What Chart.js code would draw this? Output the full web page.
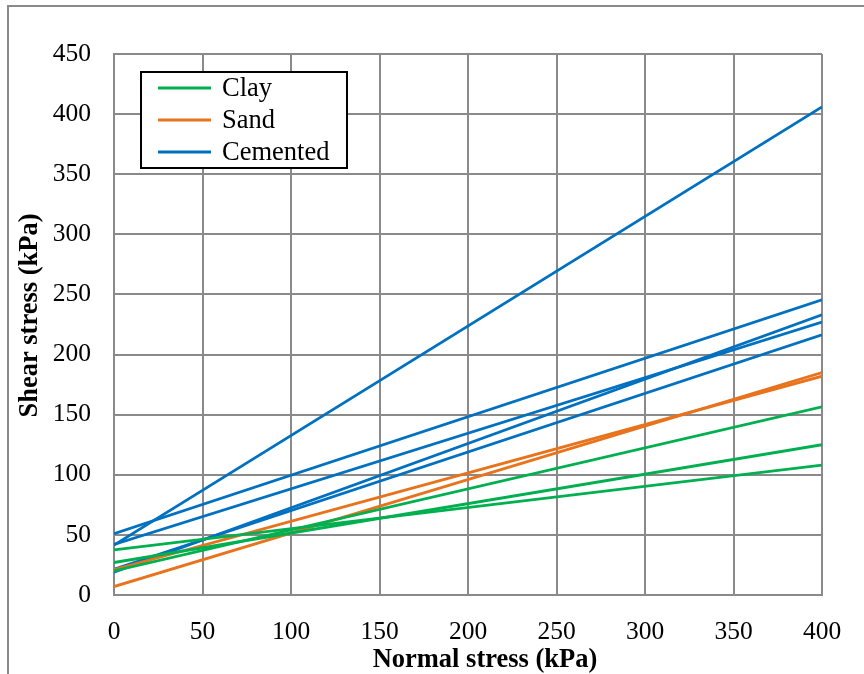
<!DOCTYPE html>
<html>
<head>
<meta charset="utf-8">
<script src="https://cdn.jsdelivr.net/npm/chart.js@4.4.0/dist/chart.umd.min.js"></script>
<style>
  html, body { margin: 0; padding: 0; background: #ffffff; }
  #wrap { position: relative; width: 864px; height: 674px; overflow: hidden; }
  #frame { position: absolute; left: 7px; top: 5px; width: 900px; height: 700px;
           border-left: 2px solid #8a8a8a; border-top: 2px solid #8a8a8a; box-sizing: border-box; }
  canvas { position: absolute; left: 0; top: 0; }
</style>
</head>
<body>
<div id="wrap">
  <div id="frame"></div>
  <canvas id="c" width="864" height="674"></canvas>
</div>
<script>
// Normal stress end points (kPa)
const normalStress = [0, 400];

// Shear stress at the two end points (kPa)
const clayA = [37.5, 108];
const clayB = [27, 125];
const clayC = [20, 156.5];

const sandA = [21, 182];
const sandB = [7, 185];

const cementedA = [41.5, 406];
const cementedB = [51, 245.5];
const cementedC = [42, 227];
const cementedD = [19, 233];
const cementedE = [21.5, 216.5];

const xTicks = [0, 50, 100, 150, 200, 250, 300, 350, 400];
const yTicks = [0, 50, 100, 150, 200, 250, 300, 350, 400, 450];

const groupNames = ['Clay', 'Sand', 'Cemented'];
const groupColors = ['#00B050', '#E8731C', '#0070C0'];
const xTitle = 'Normal stress (kPa)';
const yTitle = 'Shear stress (kPa)';
const groups = [
  [clayA, clayB, clayC],
  [sandA, sandB],
  [cementedA, cementedB, cementedC, cementedD, cementedE]
];

const datasets = [];
groups.forEach((g, gi) => {
  g.forEach((vals) => {
    datasets.push({
      label: groupNames[gi],
      data: normalStress.map((x, k) => ({ x: x, y: vals[k] })),
      borderColor: groupColors[gi],
      backgroundColor: groupColors[gi],
      borderWidth: 2.8,
      pointRadius: 0,
      fill: false,
      tension: 0
    });
  });
});

const FONT = "'Liberation Serif', 'Times New Roman', serif";

const boxLegend = {
  id: 'boxLegend',
  afterDraw(chart) {
    const ctx = chart.ctx;
    const a = chart.chartArea;
    const left = a.left + 27, top = a.top + 18, w = 206, h = 96;
    ctx.save();
    ctx.fillStyle = '#ffffff';
    ctx.fillRect(left, top, w, h);
    ctx.strokeStyle = '#000000';
    ctx.lineWidth = 2;
    ctx.strokeRect(left, top, w, h);
    ctx.font = '26.5px ' + FONT;
    ctx.textBaseline = 'middle';
    ctx.textAlign = 'left';
    groupNames.forEach((name, i) => {
      const y = top + 16 + i * 32;
      ctx.strokeStyle = groupColors[i];
      ctx.lineWidth = 2.8;
      ctx.beginPath();
      ctx.moveTo(left + 17, y);
      ctx.lineTo(left + 70, y);
      ctx.stroke();
      ctx.fillStyle = '#000000';
      ctx.fillText(name, left + 81, y + 1);
    });
    ctx.restore();
  }
};

const axisTitles = {
  id: 'axisTitles',
  afterDraw(chart) {
    const ctx = chart.ctx;
    const a = chart.chartArea;
    ctx.save();
    ctx.fillStyle = '#000';
    ctx.font = 'bold 26.5px ' + FONT;
    ctx.textAlign = 'center';
    ctx.textBaseline = 'middle';
    ctx.fillText(xTitle, (a.left + a.right) / 2 + 17, 660);
    ctx.translate(30, (a.top + a.bottom) / 2 - 9);
    ctx.rotate(-Math.PI / 2);
    ctx.fillText(yTitle, 0, 0);
    ctx.restore();
  }
};

new Chart(document.getElementById('c'), {
  type: 'line',
  data: { datasets: datasets },
  options: {
    responsive: false,
    animation: false,
    layout: { padding: { left: 0, right: 42, top: 54, bottom: 0 } },
    plugins: {
      legend: { display: false },
      tooltip: { enabled: false }
    },
    scales: {
      x: {
        type: 'linear',
        min: 0, max: 400,
        afterBuildTicks: (s) => { s.ticks = xTicks.map(v => ({ value: v })); },
        afterFit: (s) => { s.height = 79; },
        grid: { color: '#8a8a8a', lineWidth: 2, drawTicks: false },
        border: { color: '#8a8a8a', width: 2 },
        ticks: { color: '#000', font: { family: FONT, size: 25.5 }, padding: 22, maxRotation: 0 },
        title: { display: false }
      },
      y: {
        type: 'linear',
        min: 0, max: 450,
        afterBuildTicks: (s) => { s.ticks = yTicks.map(v => ({ value: v })); },
        afterFit: (s) => { s.width = 114; },
        grid: { color: '#8a8a8a', lineWidth: 2, drawTicks: false },
        border: { color: '#8a8a8a', width: 2 },
        ticks: { color: '#000', font: { family: FONT, size: 25.5 }, padding: 23 },
        title: { display: false }
      }
    }
  },
  plugins: [boxLegend, axisTitles]
});
</script>
</body>
</html>
